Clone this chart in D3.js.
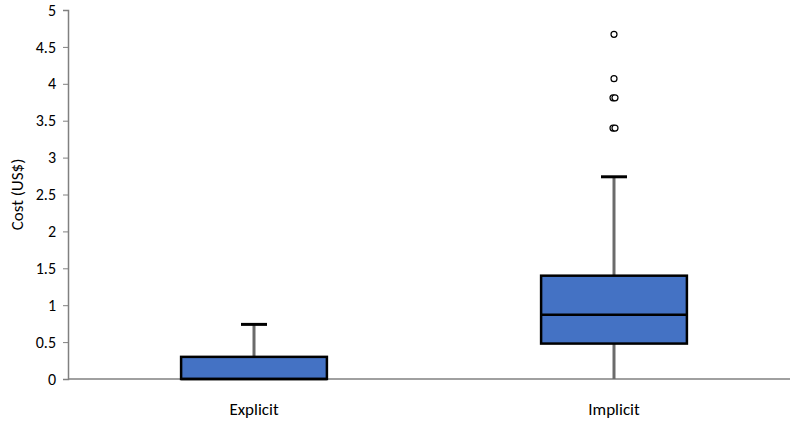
<!DOCTYPE html>
<html><head><meta charset="utf-8">
<script src="https://cdn.jsdelivr.net/npm/d3@7"></script>
<style>body{margin:0;background:#fff}text{font-family:Calibri,Carlito,"Liberation Sans",sans-serif}</style>
</head><body><svg id="c" width="797" height="421"></svg>
<script>
const categories = ["Explicit", "Implicit"];
const q1 = [0, 0.48];
const median = [0, 0.87];
const q3 = [0.30, 1.40];
const whiskerLow = [0, 0];
const whiskerHigh = [0.74, 2.74];
const outliers = [[], [4.67, 4.07, 3.81, 3.81, 3.40, 3.40]];
const yTicks = [0, 0.5, 1, 1.5, 2, 2.5, 3, 3.5, 4, 4.5, 5];

const svg = d3.select("#c");
const x = d3.scalePoint().domain(categories).range([74, 794]).padding(0.5);
const boxW = x.step() * 0.405;
const y = d3.scaleLinear().domain([0, 5]).range([379, 10]);

const ya = svg.append("g").attr("transform", "translate(68,0)")
  .call(d3.axisLeft(y).tickValues(yTicks).tickSize(5).tickFormat(d => String(d)));
ya.select(".domain").attr("stroke", "#808080").attr("stroke-width", 1.5);
ya.selectAll("line").attr("stroke", "#808080");
ya.selectAll("text").attr("font-size", 16).attr("fill", "#000").attr("x", -12);

svg.append("line").attr("x1", 68).attr("x2", 790).attr("y1", y(0)).attr("y2", y(0)).attr("stroke", "#808080").attr("stroke-width", 1.5);

categories.forEach((c, i) => {
  const cx = x(c), w = boxW, x0 = cx - w / 2;
  const g = svg.append("g");
  g.append("line").attr("x1", cx).attr("x2", cx).attr("y1", y(q3[i])).attr("y2", y(whiskerHigh[i])).attr("stroke", "#6b6b6b").attr("stroke-width", 3);
  g.append("line").attr("x1", cx).attr("x2", cx).attr("y1", y(q1[i])).attr("y2", y(whiskerLow[i])).attr("stroke", "#6b6b6b").attr("stroke-width", 3);
  g.append("line").attr("x1", cx - 13).attr("x2", cx + 13).attr("y1", y(whiskerHigh[i])).attr("y2", y(whiskerHigh[i])).attr("stroke", "#000").attr("stroke-width", 3);
  g.append("rect").attr("x", x0).attr("width", w).attr("y", y(q3[i])).attr("height", y(q1[i]) - y(q3[i]))
    .attr("fill", "#4472c4").attr("stroke", "#000").attr("stroke-width", 2.5);
  g.append("line").attr("x1", x0).attr("x2", x0 + w).attr("y1", y(median[i])).attr("y2", y(median[i])).attr("stroke", "#000").attr("stroke-width", 2.5);
  const seen = {};
  outliers[i].forEach(v => {
    const k = seen[v] = (seen[v] || 0) + 1;
    const dup = outliers[i].filter(o => o === v).length > 1;
    g.append("circle").attr("cx", cx + (k - 1) * 2 - (dup ? 1 : 0)).attr("cy", y(v)).attr("r", 3)
      .attr("fill", "#fff").attr("stroke", "#000").attr("stroke-width", 1.2);
  });
  svg.append("text").attr("x", cx).attr("y", 415).attr("text-anchor", "middle").attr("font-size", 17).text(c);
});

svg.append("text").attr("transform", "translate(23," + y(2.5) + ") rotate(-90)").attr("text-anchor", "middle").attr("font-size", 17).text("Cost (US$)");
</script></body></html>
